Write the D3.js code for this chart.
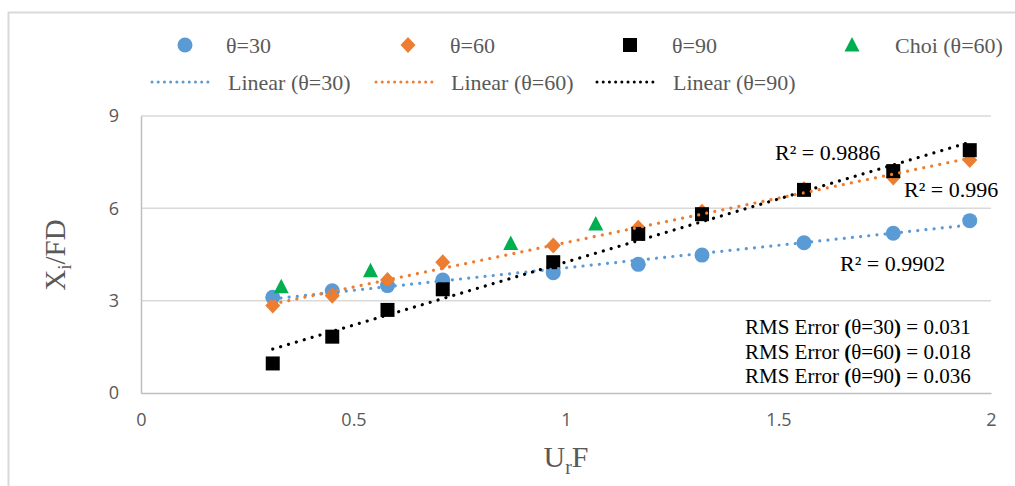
<!DOCTYPE html>
<html><head><meta charset="utf-8">
<script src="https://cdn.jsdelivr.net/npm/d3@7/dist/d3.min.js"></script>
<style>body{margin:0;background:#fff}svg{display:block}</style>
</head><body>
<svg id="c" width="1015" height="486"></svg>
<script>
// ---- data ----
const x30 = [0.31,0.45,0.58,0.71,0.97,1.17,1.32,1.56,1.77,1.95];
const y30 = [3.11,3.32,3.49,3.67,3.91,4.18,4.48,4.88,5.19,5.60];
const x60 = [0.31,0.45,0.58,0.71,0.97,1.17,1.32,1.56,1.77,1.95];
const y60 = [2.84,3.16,3.67,4.25,4.79,5.37,5.89,6.62,7.00,7.57];
const x90 = [0.31,0.45,0.58,0.71,0.97,1.17,1.32,1.56,1.77,1.95];
const y90 = [0.96,1.83,2.70,3.37,4.25,5.17,5.81,6.60,7.21,7.89];
const xChoi = [0.33,0.54,0.87,1.07];
const yChoi = [3.45,3.97,4.86,5.49];
const xTicks = [0,0.5,1,1.5,2];
const yTicks = [0,3,6,9];
const r2Labels = ["R² = 0.9886","R² = 0.996","R² = 0.9902"];
const rmsLabels = [["30","0.031"],["60","0.018"],["90","0.036"]];

const svg = d3.select("#c");
const x = d3.scaleLinear().domain([0,2]).range([141,991]);
const y = d3.scaleLinear().domain([0,9]).range([393,116]);
const C = {b:"#5b9bd5", o:"#ed7d31", k:"#000000", g:"#00b050"};
const serif = "'Liberation Serif','Times New Roman',serif";
const sans = "'Open Sans','Noto Sans',sans-serif";

// outer border
svg.append("path").attr("d","M8.5,486 L8.5,12.5 L1015,12.5").attr("fill","none").attr("stroke","#d9d9d9").attr("stroke-width",2);

// gridlines
svg.append("g").selectAll("line").data(yTicks.filter(d=>d>0)).join("line")
  .attr("x1",x(0)).attr("x2",x(2)).attr("y1",d=>y(d)).attr("y2",d=>y(d))
  .attr("stroke","#d9d9d9").attr("stroke-width",1.5);

// axes
const yAxis = svg.append("g").attr("transform",`translate(${x(0)},0)`)
  .call(d3.axisLeft(y).tickValues(yTicks).tickSize(0).tickPadding(22).tickFormat(d3.format("d")));
const xAxis = svg.append("g").attr("transform",`translate(0,${y(0)})`)
  .call(d3.axisBottom(x).tickValues(xTicks).tickSize(0).tickPadding(20).tickFormat(d=>String(d)));
[yAxis,xAxis].forEach(a=>{
  a.select(".domain").attr("stroke","#bfbfbf").attr("stroke-width",1.5);
  a.selectAll("text").attr("fill","#595959").attr("font-family",sans).attr("font-size",18);
});

// axis titles
const yt = svg.append("text").attr("transform","translate(65,255) rotate(-90)")
  .attr("text-anchor","middle").attr("fill","#595959").attr("font-family",serif).attr("font-size",29);
yt.append("tspan").text("X");
yt.append("tspan").text("i").attr("font-size",19).attr("dy",6);
yt.append("tspan").text("/FD").attr("dy",-6);
const xt = svg.append("text").attr("x",x(1)).attr("y",467)
  .attr("text-anchor","middle").attr("fill","#595959").attr("font-family",serif).attr("font-size",30);
xt.append("tspan").text("U");
xt.append("tspan").text("r").attr("font-size",20).attr("dy",7);
xt.append("tspan").text("F").attr("dy",-7);

// regression
function fit(xs,ys){
  const n=xs.length, mx=d3.mean(xs), my=d3.mean(ys);
  let sxy=0,sxx=0; for(let i=0;i<n;i++){sxy+=(xs[i]-mx)*(ys[i]-my);sxx+=(xs[i]-mx)**2;}
  const m=sxy/sxx, b=my-m*mx; const x0=d3.min(xs), x1=d3.max(xs);
  return [[x0,m*x0+b],[x1,m*x1+b]];
}
const series = [
  {xs:x30,ys:y30,c:C.b,shape:"circle"},
  {xs:x60,ys:y60,c:C.o,shape:"diamond"},
  {xs:x90,ys:y90,c:C.k,shape:"square"}
];
const line = d3.line().x(d=>x(d[0])).y(d=>y(d[1]));

function shapePath(s){
  if(s==="circle") return "M7.5,0A7.5,7.5,0,1,1,-7.5,0A7.5,7.5,0,1,1,7.5,0Z";
  if(s==="diamond") return "M0,-8L7.5,0L0,8L-7.5,0Z";
  if(s==="square") return "M-7,-7H7V7H-7Z";
  return "M0,-8L7.5,6.5L-7.5,6.5Z";
}
function drawPoints(xs,ys,c,shape){
  svg.append("g").selectAll("path").data(xs.map((v,i)=>[v,ys[i]])).join("path")
    .attr("transform",d=>`translate(${x(d[0])},${y(d[1])})`)
    .attr("d",shapePath(shape)).attr("fill",c);
}
series.forEach(s=>drawPoints(s.xs,s.ys,s.c,s.shape));
drawPoints(xChoi,yChoi,C.g,"triangle");
// trendlines on top
series.forEach(s=>{
  svg.append("path").attr("d",line(fit(s.xs,s.ys))).attr("fill","none")
    .attr("stroke",s.c).attr("stroke-width",3.2).attr("stroke-linecap","round").attr("stroke-dasharray","0.01 8.2");
});

// R² labels
const r2Pos = [[775,160],[904,197],[840,271]];
r2Labels.forEach((t,i)=>svg.append("text").attr("x",r2Pos[i][0]).attr("y",r2Pos[i][1])
  .attr("font-family",serif).attr("font-size",22).attr("fill","#000").text(t));

// RMS labels
rmsLabels.forEach((r,i)=>{
  const t = svg.append("text").attr("x",745).attr("y",334+i*24.5)
    .attr("font-family",serif).attr("font-size",21).attr("fill","#000");
  t.append("tspan").text("RMS Error ");
  t.append("tspan").text("(").attr("font-weight","bold");
  t.append("tspan").text("θ=" + r[0]);
  t.append("tspan").text(")").attr("font-weight","bold");
  t.append("tspan").text(" = " + r[1]);
});

// legend
const leg1 = [
  {label:"θ=30",c:C.b,shape:"circle",mx:185,tx:226},
  {label:"θ=60",c:C.o,shape:"diamond",mx:408,tx:450},
  {label:"θ=90",c:C.k,shape:"square",mx:630,tx:672},
  {label:"Choi (θ=60)",c:C.g,shape:"triangle",mx:852,tx:895}
];
leg1.forEach(l=>{
  svg.append("path").attr("transform",`translate(${l.mx},45)`).attr("d",shapePath(l.shape)).attr("fill",l.c);
  svg.append("text").attr("x",l.tx).attr("y",53).attr("font-family",serif).attr("font-size",22)
    .attr("fill","#595959").text(l.label);
});
const leg2 = [
  {label:"Linear (θ=30)",c:C.b,x0:152,tx:228},
  {label:"Linear (θ=60)",c:C.o,x0:376,tx:451},
  {label:"Linear (θ=90)",c:C.k,x0:597,tx:673}
];
leg2.forEach(l=>{
  svg.append("line").attr("x1",l.x0).attr("x2",l.x0+62).attr("y1",82).attr("y2",82)
    .attr("stroke",l.c).attr("stroke-width",3).attr("stroke-linecap","round").attr("stroke-dasharray","0.01 6.2");
  svg.append("text").attr("x",l.tx).attr("y",90).attr("font-family",serif).attr("font-size",22)
    .attr("fill","#595959").text(l.label);
});
</script>
</body></html>
